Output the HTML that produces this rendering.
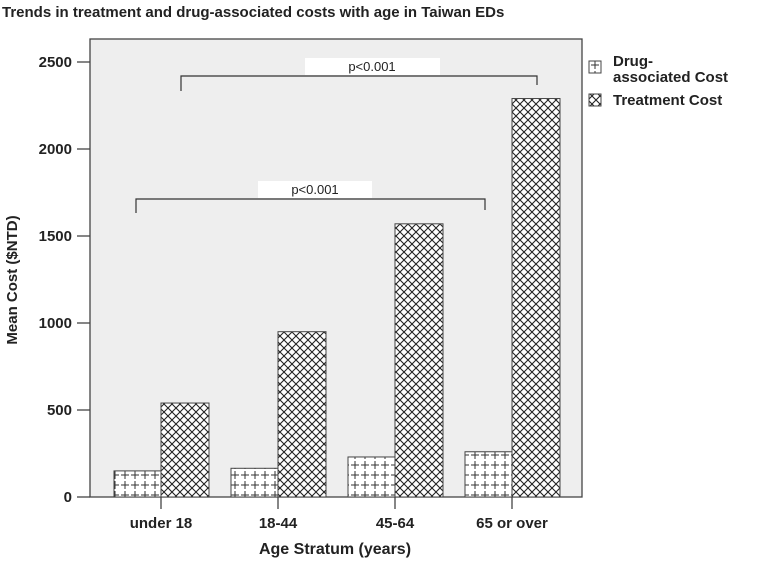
<!DOCTYPE html>
<html><head><meta charset="utf-8"><style>
body{margin:0;background:#fff;width:758px;height:559px;overflow:hidden}
text{font-family:"Liberation Sans",Arial,sans-serif}
</style></head><body>
<svg id="chart" width="758" height="559">
<defs>
<pattern id="plus" width="10" height="10" patternUnits="userSpaceOnUse">
<rect width="10" height="10" fill="#fff"/>
<path d="M5 1V9M1 5H9" stroke="#333" stroke-width="1"/>
</pattern>
<pattern id="cross" width="8" height="8" patternUnits="userSpaceOnUse">
<rect width="8" height="8" fill="#fff"/>
<path d="M0 0L8 8M8 0L0 8" stroke="#222" stroke-width="1.1"/>
</pattern>
</defs>
<text x="2" y="17" font-size="15" font-weight="bold" fill="#222">Trends in treatment and drug-associated costs with age in Taiwan EDs</text>
<rect x="90" y="39" width="492" height="458" fill="#eeeeee" stroke="#444" stroke-width="1.3"/>
<g id="yaxis"></g>
<g id="bars"></g>
<g id="xaxis"></g>
<g>
<path d="M181 91V76H537V85" fill="none" stroke="#333" stroke-width="1.2"/>
<rect x="305" y="58" width="135" height="17" fill="#fff"/>
<text x="372" y="71" font-size="13" text-anchor="middle" fill="#222">p&lt;0.001</text>
</g>
<g>
<path d="M136 213V199H485V210" fill="none" stroke="#333" stroke-width="1.2"/>
<rect x="258" y="181" width="114" height="17" fill="#fff"/>
<text x="315" y="194" font-size="13" text-anchor="middle" fill="#222">p&lt;0.001</text>
</g>
<text transform="translate(17,280) rotate(-90)" font-size="15" font-weight="bold" text-anchor="middle" fill="#222">Mean Cost ($NTD)</text>
<text x="335" y="554" font-size="16" font-weight="bold" text-anchor="middle" fill="#222">Age Stratum (years)</text>
<g>
<g>
<rect x="589" y="61" width="12" height="12" fill="url(#plus)" stroke="#444"/>
<text x="613" y="66" font-size="15" font-weight="bold" fill="#222">Drug-</text>
<text x="613" y="82" font-size="15" font-weight="bold" fill="#222">associated Cost</text>
</g>
<g>
<rect x="589" y="94" width="12" height="12" fill="url(#cross)" stroke="#444"/>
<text x="613" y="105" font-size="15" font-weight="bold" fill="#222">Treatment Cost</text>
</g>
</g>
</svg>
<script>
const categories=["under 18","18-44","45-64","65 or over"];
const drugCost=[150,165,230,260];
const treatmentCost=[540,950,1570,2290];
const yTicks=[0,500,1000,1500,2000,2500];
const NS="http://www.w3.org/2000/svg";
const y0=497,yScale=435/2500;
function yPos(v){return y0-v*yScale;}
function xCenter(i){return 161+i*117;}
const bw=47;
function mk(tag,attrs,parent){const e=document.createElementNS(NS,tag);for(const k in attrs)e.setAttribute(k,attrs[k]);parent.appendChild(e);return e;}
const ya=document.getElementById('yaxis'),bars=document.getElementById('bars'),xa=document.getElementById('xaxis');
yTicks.forEach(t=>{
 const l=mk('line',{x1:77,x2:90,y1:yPos(t),y2:yPos(t),stroke:'#444','stroke-width':1.3},ya);
 
 
 const tx=mk('text',{x:72,y:yPos(t)+5,'font-size':15,'font-weight':'bold','text-anchor':'end',fill:'#222'},ya);
 tx.textContent=t;
 
 
});
categories.forEach((c,i)=>{
 const cx=xCenter(i);
 const d=mk('rect',{x:cx-bw,y:yPos(drugCost[i]),width:bw,height:y0-yPos(drugCost[i]),fill:'url(#plus)',stroke:'#444','stroke-width':1},bars);
 
 
 const t=mk('rect',{x:cx,y:yPos(treatmentCost[i]),width:bw+1,height:y0-yPos(treatmentCost[i]),fill:'url(#cross)',stroke:'#444','stroke-width':1},bars);
 
 
 const tk=mk('line',{x1:cx,x2:cx,y1:y0,y2:y0+12,stroke:'#444','stroke-width':1.3},xa);
 
 
 const lb=mk('text',{x:cx,y:528,'font-size':15,'font-weight':'bold','text-anchor':'middle',fill:'#222'},xa);
 lb.textContent=c;
 
 
});
</script>
</body></html>
